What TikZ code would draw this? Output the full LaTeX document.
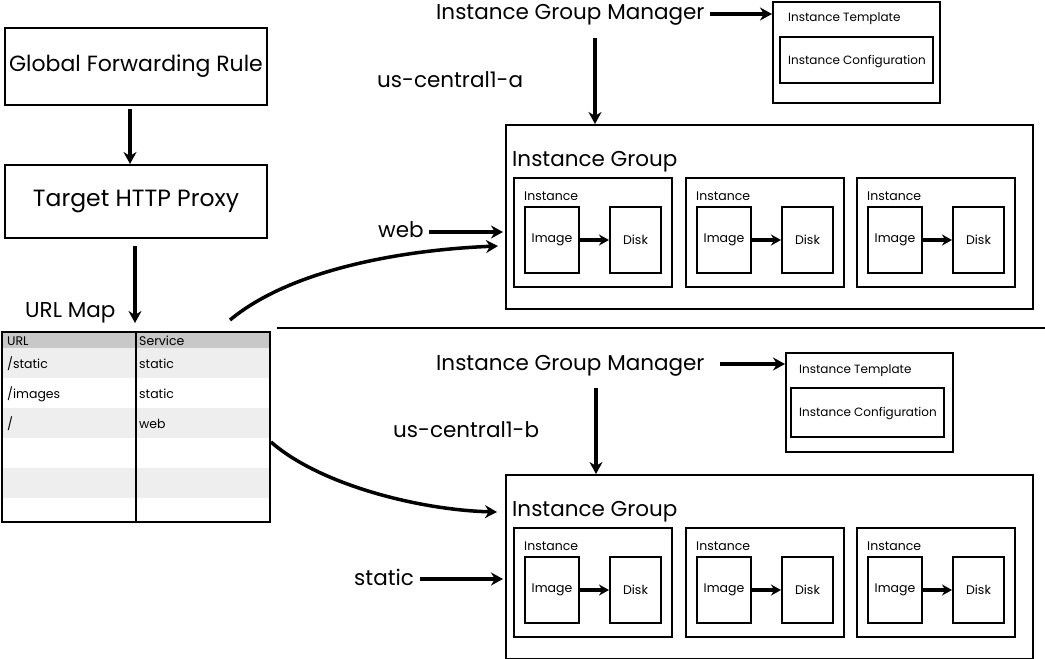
\documentclass[tikz,border=0pt]{standalone}
\usepackage{fontspec}
\setmainfont{Poppins}
\usetikzlibrary{arrows.meta,calc}
\definecolor{hdr}{HTML}{C8C8C8}
\definecolor{alt}{HTML}{EEEEEE}
\begin{document}
\begin{tikzpicture}[x=1pt,y=-1pt,
 box/.style={draw,line width=2pt,rectangle,inner sep=0pt,font=\fontsize{12.5}{15}\selectfont},
 bigbox/.style={box,font=\fontsize{22}{26}\selectfont},
 big/.style={font=\fontsize{21.5}{26}\selectfont,anchor=base west,inner sep=0pt},
 small/.style={font=\fontsize{12.5}{15}\selectfont,anchor=base west,inner sep=0pt},
 tiny/.style={font=\fontsize{12}{14}\selectfont,anchor=base west,inner sep=0pt},
 arr/.style={line width=3.5pt,-{Stealth[length=12pt,width=13pt]}},
 sarr/.style={line width=3.5pt,-{Stealth[length=10pt,width=11pt]}},
]
\useasboundingbox (0,0) rectangle (1045,659);

% left column
\node[bigbox,minimum width=262,minimum height=77] (gfr) at (136,66.5) {Global Forwarding Rule};
\node[bigbox,minimum width=262,minimum height=73,font=\fontsize{23.5}{27}\selectfont] (proxy) at (136,201.5) {Target HTTP Proxy};
\draw[arr] (gfr.south -| 130,0) ++(0,3) coordinate (g1) -- (proxy.north -| 130,0);
\draw[arr] ($(proxy.south)+(-1,7)$) coordinate (p1) -- ($(proxy.south)+(-1,84)$) coordinate (p2);
\node[big] (urllbl) at (25,317) {URL Map};

% table
\fill[hdr] (2,332) rectangle (270,348);
\fill[alt] (2,348) rectangle (270,378);
\fill[alt] (2,408) rectangle (270,438);
\fill[alt] (2,468) rectangle (270,498);
\node[box,minimum width=268,minimum height=190] (urlmap) at (136,427) {};
\draw[line width=2pt] (urlmap.north) -- (urlmap.south);
\node[small] (h1) at (7,345) {URL};
\node[small] (h2) at (139,345) {Service};
\node[small] (r1a) at (7,368) {/static};
\node[small] (r1b) at (139,368) {static};
\node[small] (r2a) at (7,398) {/images};
\node[small] (r2b) at (139,398) {static};
\node[small] (r3a) at (7,428) {/};
\node[small] (r3b) at (139,428) {web};

% divider
\draw[line width=1.2pt] (277,328) coordinate (d1) -- (1045,328) coordinate (d2);

% groups
\foreach \g/\gy in {A/124,B/474} {
  \node[box,minimum width=527,minimum height=184,anchor=north west] (grp\g) at (505,\gy) {};
  \node[big] (gt\g) at (512,\gy+42.5) {Instance Group};
  \foreach \i/\ix in {1/513,2/685,3/856} {
    \node[box,minimum width=158,minimum height=109,anchor=north west] (inst\g\i) at (\ix,\gy+53) {};
    \node[small] (il\g\i) at (\ix+11,\gy+76) {Instance};
    \node[box,minimum width=54,minimum height=66,anchor=north west] (img\g\i) at (\ix+11,\gy+82) {Image};
    \node[box,minimum width=51,minimum height=66,anchor=north west] (dsk\g\i) at (\ix+96,\gy+82) {Disk};
    \draw[sarr] (img\g\i.east) -- (dsk\g\i.west);
  }
}

% top manager
\node[big] (mgrA) at (436,19.5) {Instance Group Manager};
\node[box,minimum width=167,minimum height=101] (tplA) at (856.5,52.5) {};
\node[tiny] (tplAl) at (788,21.5) {Instance Template};
\node[box,minimum width=153,minimum height=46] (cfgA) at (856.5,60) {};
\node[tiny] (cfgAl) at (788,64.5) {Instance Configuration};
\draw[arr] (710,14) coordinate (m1) -- (tplA.west |- m1);
\draw[arr] (595,38) coordinate (ma) -- (grpA.north -| ma);
\node[big] (zoneA) at (377,87.5) {us-central1-a};
\node[big] (web) at (378,237.5) {web};
\draw[arr] (429,232) coordinate (w1) -- ($(grpA.west |- w1)+(-2,0)$);

% bottom manager
\node[big] (mgrB) at (436,370.5) {Instance Group Manager};
\node[box,minimum width=167,minimum height=99] (tplB) at (869.5,402.5) {};
\node[tiny] (tplBl) at (799,373.5) {Instance Template};
\node[box,minimum width=153,minimum height=49] (cfgB) at (867.5,412.5) {};
\node[tiny] (cfgBl) at (799,416.5) {Instance Configuration};
\draw[arr] (720,364) coordinate (mb) -- (tplB.west |- mb);
\draw[arr] (596,388) coordinate (mc) -- (grpB.north -| mc);
\node[big] (zoneB) at (393,437.5) {us-central1-b};
\node[big] (static) at (354,585.5) {static};
\draw[arr] (420,579) coordinate (s1) -- ($(grpB.west |- s1)+(-2,0)$);

% curves
\coordinate (cs1) at (230,320);
\coordinate (ce1) at ($(grpA.west |- 0,246)+(-7,0)$);
\draw[arr] (cs1) .. controls (290,270) and (400,250) .. (ce1);
\coordinate (cs2) at ($(urlmap.east |- 0,442)$);
\coordinate (ce2) at ($(grpB.west |- 0,512)+(-8,0)$);
\draw[arr] (cs2) .. controls (320,485) and (420,510) .. (ce2);
\end{tikzpicture}
\end{document}
